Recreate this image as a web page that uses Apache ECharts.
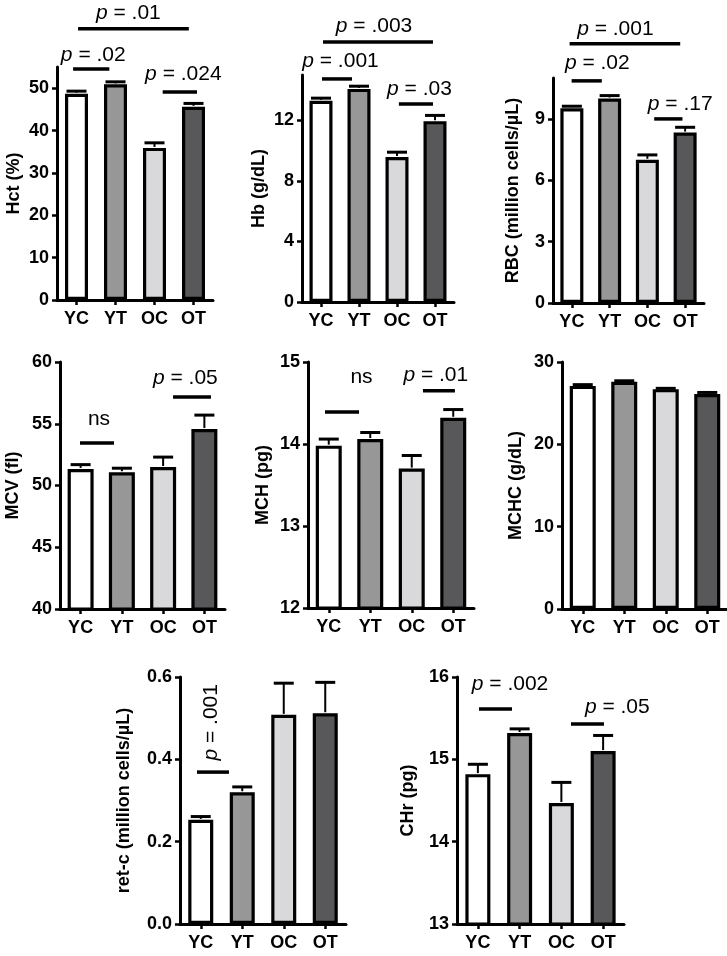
<!DOCTYPE html>
<html><head><meta charset="utf-8">
<script src="https://cdn.jsdelivr.net/npm/echarts@6/dist/echarts.min.js"></script>
<style>html,body{margin:0;padding:0;background:#fff}#c{width:727px;height:956px}</style>
</head><body><div id="c"></div>
<script>
// ---------- data ----------
const categories = ['YC', 'YT', 'OC', 'OT'];

const hctMean = [48.7, 50.9, 35.9, 45.6];
const hctErr  = [0.6, 0.6, 1.2, 0.8];
const hctTicks = [0, 10, 20, 30, 40, 50];
const hctSig = ['p = .02', 'p = .024', 'p = .01'];

const hbMean = [13.3, 14.08, 9.58, 11.95];
const hbErr  = [0.17, 0.18, 0.32, 0.38];
const hbTicks = [0, 4, 8, 12];
const hbSig = ['p = .001', 'p = .03', 'p = .003'];

const rbcMean = [9.52, 10.0, 7.0, 8.33];
const rbcErr  = [0.1, 0.14, 0.24, 0.26];
const rbcTicks = [0, 3, 6, 9];
const rbcSig = ['p = .02', 'p = .17', 'p = .001'];

const mcvMean = [51.34, 51.07, 51.5, 54.57];
const mcvErr  = [0.35, 0.33, 0.8, 1.13];
const mcvTicks = [40, 45, 50, 55, 60];
const mcvSig = ['ns', 'p = .05'];

const mchMean = [13.98, 14.06, 13.7, 14.32];
const mchErr  = [0.08, 0.08, 0.16, 0.1];
const mchTicks = [12, 13, 14, 15];
const mchSig = ['ns', 'p = .01'];

const mchcMean = [27.1, 27.6, 26.7, 26.1];
const mchcErr  = [0.15, 0.12, 0.1, 0.2];
const mchcTicks = [0, 10, 20, 30];
const mchcSig = [];

const retMean = [0.253, 0.32, 0.508, 0.512];
const retErr  = [0.008, 0.013, 0.077, 0.075];
const retTicks = [0.0, 0.2, 0.4, 0.6];
const retSig = ['p = .001'];

const chrMean = [14.82, 15.32, 14.47, 15.1];
const chrErr  = [0.12, 0.05, 0.25, 0.19];
const chrTicks = [13, 14, 15, 16];
const chrSig = ['p = .002', 'p = .05'];

// ---------- styles / layout ----------
const groupColors = ['#ffffff', '#979797', '#d9d9db', '#58585a'];
const FONT = '"Liberation Sans", Arial, Helvetica, sans-serif';
const P_SIZE = 21;

const panels = [
  { title: 'Hct (%)', mean: hctMean, err: hctErr, ticks: hctTicks, sig: hctSig, min: 0, max: 55,
    grid: [57, 67, 156, 233], barW: 23, gap: 34,
    sigGeom: [[-0.087, 0.842, 54.5, 0.43, 57.8], [2.21, 3.09, 49.1, 2.74, 53.4], [0.04, 2.88, 64.0, 1.33, 67.6]] },
  { title: 'Hb (g/dL)', mean: hbMean, err: hbErr, ticks: hbTicks, sig: hbSig, min: 0, max: 15,
    grid: [302, 75, 152, 227], barW: 23, gap: 34,
    sigGeom: [[0.026, 0.816, 14.74, 0.513, 15.93], [2.05, 2.947, 13.09, 2.59, 14.08], [0.053, 2.947, 17.18, 1.395, 18.24]] },
  { title: 'RBC (million cells/\u00b5L)', mean: rbcMean, err: rbcErr, ticks: rbcTicks, sig: rbcSig, min: 0, max: 11,
    grid: [553, 78, 151, 225], barW: 23, gap: 31,
    sigGeom: [[-0.007, 0.793, 10.86, 0.673, 11.71], [2.18, 2.93, 9.0, 2.87, 9.73], [-0.06, 2.87, 12.67, 1.153, 13.4]] },
  { title: 'MCV (fl)', mean: mcvMean, err: mcvErr, ticks: mcvTicks, sig: mcvSig, min: 40, max: 60,
    grid: [60, 362, 165, 247], barW: 26, gap: 38,
    sigGeom: [[-0.015, 0.809, 53.44, 0.445, 55.34], [2.24, 3.16, 57.17, 2.54, 58.7]] },
  { title: 'MCH (pg)', mean: mchMean, err: mchErr, ticks: mchTicks, sig: mchSig, min: 12, max: 15,
    grid: [308, 362, 166, 246], barW: 26, gap: 36,
    sigGeom: [[-0.09, 0.73, 14.39, 0.79, 14.82], [2.27, 3.04, 14.65, 2.58, 14.84]] },
  { title: 'MCHC (g/dL)', mean: mchcMean, err: mchcErr, ticks: mchcTicks, sig: mchcSig, min: 0, max: 30,
    grid: [562, 362, 166, 247], barW: 26, gap: 37, sigGeom: [] },
  { title: 'ret-c (million cells/\u00b5L)', mean: retMean, err: retErr, ticks: retTicks, sig: retSig, min: 0, max: 0.6,
    grid: [180, 677, 166, 247], barW: 25, gap: 47, fmt: v => v.toFixed(1),
    sigGeom: [[-0.09, 0.68, 0.369, 0.247, 0.49, true]] },
  { title: 'CHr (pg)', mean: chrMean, err: chrErr, ticks: chrTicks, sig: chrSig, min: 13, max: 16,
    grid: [457, 677, 167, 247], barW: 25, gap: 40,
    sigGeom: [[0.027, 0.817, 15.61, 0.77, 15.91], [2.23, 3.02, 15.43, 3.34, 15.63]] }
];

const grids = [], xAxes = [], yAxes = [], series = [];
const labelStyle = { color: '#000', fontFamily: FONT, fontWeight: 'bold', fontSize: 18 };

panels.forEach((p, k) => {
  grids.push({ left: p.grid[0], top: p.grid[1], width: p.grid[2], height: p.grid[3], containLabel: false, outerBoundsMode: 'none' });
  xAxes.push({
    type: 'category', gridIndex: k, data: categories,
    axisLine: { show: true, lineStyle: { color: '#000', width: 3 } },
    axisTick: { show: true, alignWithLabel: true, length: 5, lineStyle: { color: '#000', width: 2.5 } },
    axisLabel: Object.assign({ margin: 10, interval: 0 }, labelStyle),
    splitLine: { show: false }
  });
  yAxes.push({
    type: 'value', gridIndex: k, min: p.min, max: p.max,
    name: p.title, nameLocation: 'middle', nameGap: p.gap, nameRotate: 90,
    nameTextStyle: { color: '#000', fontFamily: FONT, fontWeight: 'bold', fontSize: 18 },
    axisLine: { show: true, lineStyle: { color: '#000', width: 3 } },
    axisTick: { show: true, length: 5, customValues: p.ticks, lineStyle: { color: '#000', width: 2.5 } },
    axisLabel: Object.assign({ margin: 8, customValues: p.ticks, formatter: p.fmt || (v => String(v)) }, labelStyle),
    splitLine: { show: false }
  });
  series.push({
    type: 'bar', xAxisIndex: k, yAxisIndex: k, barWidth: p.barW, z: 2,
    itemStyle: { borderColor: '#000', borderWidth: 3.2 },
    data: p.mean.map((v, i) => ({ value: v, itemStyle: { color: groupColors[i] } })),
    silent: true, animation: false
  });
  series.push({
    type: 'custom', xAxisIndex: k, yAxisIndex: k, z: 3, silent: true, animation: false,
    data: p.mean.map((v, i) => [i, v, p.err[i]]),
    encode: { x: 0, y: 1 },
    renderItem: (params, api) => {
      const i = api.value(0), m = api.value(1), e = api.value(2);
      const a = api.coord([i, m]);
      const b = api.coord([i, m + e]);
      return { type: 'group', children: [
        { type: 'line', shape: { x1: a[0], y1: a[1] - 1, x2: b[0], y2: b[1] }, style: { stroke: '#000', lineWidth: 2 } },
        { type: 'line', shape: { x1: b[0] - 10, y1: b[1], x2: b[0] + 10, y2: b[1] }, style: { stroke: '#000', lineWidth: 3 } }
      ] };
    }
  });
  if (p.sig.length) {
    series.push({
      type: 'custom', xAxisIndex: k, yAxisIndex: k, z: 4, silent: true, animation: false, clip: false,
      data: p.sigGeom.map(g => [0, g[2]]),
      encode: { x: 0, y: 1 },
      renderItem: (params, api) => {
        const g = p.sigGeom[params.dataIndex];
        const lbl = p.sig[params.dataIndex];
        const bw = api.size([1, 0])[0];
        const c0 = api.coord([0, g[2]]);
        const ct = api.coord([0, g[4]]);
        const isP = lbl.indexOf('p ') === 0;
        const txt = isP ? '{i|p}{n|' + lbl.slice(1) + '}' : '{n|' + lbl + '}';
        const rich = {
          i: { fontFamily: FONT, fontSize: P_SIZE, fontStyle: 'italic', fill: '#000', fontWeight: 'normal' },
          n: { fontFamily: FONT, fontSize: P_SIZE, fontStyle: 'normal', fill: '#000', fontWeight: 'normal' }
        };
        return { type: 'group', children: [
          { type: 'line', shape: { x1: c0[0] + g[0] * bw, y1: c0[1], x2: c0[0] + g[1] * bw, y2: c0[1] },
            style: { stroke: '#000', lineWidth: 3.5 } },
          { type: 'text', x: c0[0] + g[3] * bw, y: ct[1], rotation: g[5] ? Math.PI / 2 : 0,
            style: { text: txt, rich: rich, fontFamily: FONT, fontSize: P_SIZE, fill: '#000', align: 'center', verticalAlign: 'middle' } }
        ] };
      }
    });
  }
});

const chart = echarts.init(document.getElementById('c'), null, { renderer: 'canvas' });
chart.setOption({
  animation: false,
  backgroundColor: '#fff',
  grid: grids, xAxis: xAxes, yAxis: yAxes, series: series
});
</script></body></html>
